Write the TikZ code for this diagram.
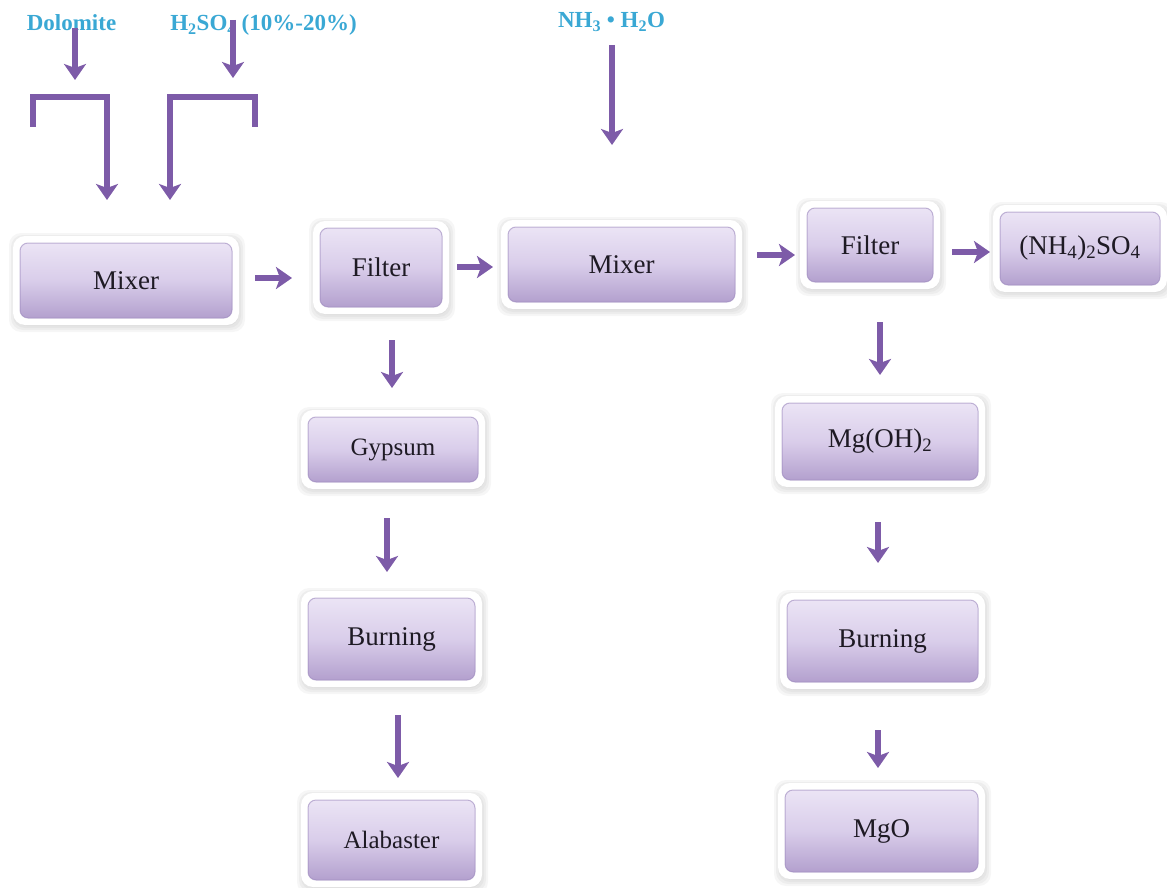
\documentclass[tikz,border=0pt]{standalone}
\usepackage{fontspec}
\setmainfont{Liberation Serif}
\usetikzlibrary{arrows.meta,calc,backgrounds}
\definecolor{arrowc}{HTML}{7D5BA8}
\definecolor{labc}{HTML}{3AA8D4}
\definecolor{boxtop}{HTML}{EBE4F5}
\definecolor{boxmid}{HTML}{D9CDEA}
\definecolor{boxbot}{HTML}{B3A0CE}
\definecolor{boxedge}{HTML}{9A86BC}
\definecolor{txt}{HTML}{1E1A24}
\begin{document}
\begin{tikzpicture}[x=1pt,y=-1pt,
  pbox/.style={outer sep=0pt, inner sep=0pt, font=\fontsize{27}{30}\selectfont, text=txt},
  arr/.style={draw=arrowc, line width=5.5pt, line cap=butt,
    -{Stealth[length=16pt,width=22pt,inset=4pt]}},
  lab/.style={text=labc, font=\fontsize{23}{26}\selectfont\bfseries, inner sep=0pt}]
\useasboundingbox (0,0) rectangle (1167,888);

% boxes (size = purple face)
\node[pbox, minimum width=212pt, minimum height=75pt] (mixA) at (126,280.5) {Mixer};
\node[pbox, minimum width=122pt, minimum height=79pt] (filtA) at (381,267.5) {Filter};
\node[pbox, minimum width=227pt, minimum height=75pt] (mixB) at (621.5,264.5) {Mixer};
\node[pbox, minimum width=126pt, minimum height=74pt] (filtB) at (870,245) {Filter};
\node[pbox, minimum width=160pt, minimum height=73pt] (nh4) at (1080,248.5) {(NH\textsubscript{4})\textsubscript{2}SO\textsubscript{4}};
\node[pbox, minimum width=170pt, minimum height=65pt, font=\fontsize{25}{28}\selectfont] (gyp) at (393,449.5) {Gypsum};
\node[pbox, minimum width=167pt, minimum height=82pt] (burA) at (391.5,639) {Burning};
\node[pbox, minimum width=167pt, minimum height=80pt, font=\fontsize{25}{28}\selectfont] (ala) at (391.5,840) {Alabaster};
\node[pbox, minimum width=196pt, minimum height=77pt] (mgoh) at (880,441.5) {Mg(OH)\textsubscript{2}};
\node[pbox, minimum width=191pt, minimum height=82pt] (burB) at (882.5,641) {Burning};
\node[pbox, minimum width=193pt, minimum height=82pt] (mgo) at (881.5,831) {MgO};

\begin{scope}[on background layer]
\foreach \n in {mixA,filtA,mixB,filtB,nh4,gyp,burA,ala,mgoh,burB,mgo}{
  \foreach \k in {4,6,8,10,12}{
    \fill[black, opacity=0.035, rounded corners=12pt]
      ($(\n.south west)+(-\k+1,\k+2)$) rectangle ($(\n.north east)+(\k+1,-\k+2)$);
  }
  \fill[white, rounded corners=12pt]
    ($(\n.south west)+(-7,7)$) rectangle ($(\n.north east)+(7,-7)$);
  \shade[top color=boxtop, bottom color=boxbot, middle color=boxmid, rounded corners=8pt]
    (\n.south west) rectangle (\n.north east);
  \draw[boxedge, opacity=0.6, line width=1pt, rounded corners=8pt]
    (\n.south west) rectangle (\n.north east);
}
\end{scope}

% top labels
\node[lab, anchor=base] (dol) at (71.5,30.5) {Dolomite};
\node[lab, anchor=base] (acid) at (263.5,30.5) {H\textsubscript{2}SO\textsubscript{4} (10\%-20\%)};
\node[lab, anchor=base] (nh3) at (611.5,28) {NH\textsubscript{3} \textbullet\ H\textsubscript{2}O};

% bracket corner coordinates
\coordinate (bl1) at (33,127);
\coordinate (bl2) at (33,97);
\coordinate (bl3) at (107,97);
\coordinate (br1) at (255,127);
\coordinate (br2) at (255,97);
\coordinate (br3) at (170,97);
\coordinate (dolEnd) at (75,80);
\coordinate (acidEnd) at (233,78);

% top arrows
\draw[arr] ($(dol.base)+(3.5,-2.5)$) -- (dolEnd);
\draw[arr] ($(acid.base)+(-30.5,-10.5)$) -- (acidEnd);
\draw[arr] (bl1) -- (bl2) -- (bl3) -- ($(mixA.north)+(-19,-43)$);
\draw[arr] (br1) -- (br2) -- (br3) -- ($(mixA.north)+(44,-43)$);
\draw[arr] ($(nh3.base)+(0.5,17)$) -- ($(mixB.north)+(-9.5,-82)$);

% main flow arrows
\draw[arr] ($(mixA.east)+(23,-2.5)$) -- ($(filtA.west)+(-28,10.5)$);
\draw[arr] ($(filtA.east)+(15,-0.5)$) -- ($(mixB.west)+(-15,2.5)$);
\draw[arr] ($(mixB.east)+(22,-9.5)$) -- ($(filtB.west)+(-12,10)$);
\draw[arr] ($(filtB.east)+(19,7)$) -- ($(nh4.west)+(-10,3.5)$);
\draw[arr] ($(filtA.south)+(11,33)$) -- ($(gyp.north)+(-1,-29)$);
\draw[arr] ($(gyp.south)+(-6,36)$) -- ($(burA.north)+(-4.5,-26)$);
\draw[arr] ($(burA.south)+(6.5,35)$) -- ($(ala.north)+(6.5,-22)$);
\draw[arr] ($(filtB.south)+(10,40)$) -- ($(mgoh.north)+(0,-28)$);
\draw[arr] ($(mgoh.south)+(-2,42)$) -- ($(burB.north)+(-4.5,-37)$);
\draw[arr] ($(burB.south)+(-4.5,48)$) -- ($(mgo.north)+(-3.5,-22)$);
\end{tikzpicture}
\end{document}
